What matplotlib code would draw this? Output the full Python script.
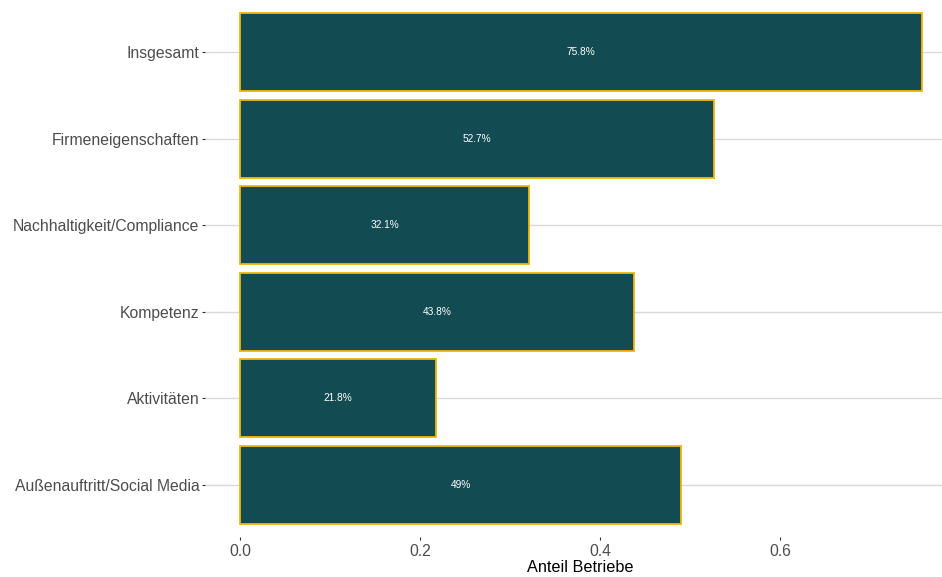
import matplotlib.pyplot as plt

plt.rcParams['font.family'] = ['Liberation Sans', 'DejaVu Sans']

# Daten (von oben nach unten)
kategorien = ['Insgesamt', 'Firmeneigenschaften', 'Nachhaltigkeit/Compliance',
              'Kompetenz', 'Aktivitäten', 'Außenauftritt/Social Media']
anteile = [0.758, 0.527, 0.321, 0.438, 0.218, 0.49]
labels = ['75.8%', '52.7%', '32.1%', '43.8%', '21.8%', '49%']

fig = plt.figure(figsize=(9.42, 5.77), dpi=100)
ax = fig.add_axes([205 / 942, 1 - 537 / 577, 1 - 205 / 942, 537 / 577])

pos = list(range(len(kategorien)))
ax.barh(pos, anteile, height=0.9, color='#134B53', edgecolor='#F2B705',
        linewidth=1.3, zorder=3)
for p, v, t in zip(pos, anteile, labels):
    ax.text(v / 2, p, t, color='white', fontsize=7.3, ha='center', va='center', zorder=4)

ax.set_yticks(pos)
ax.set_yticklabels(kategorien)
ax.set_ylim(len(kategorien) - 0.4, -0.6)
ax.set_xlim(-0.039, 0.78)
ax.set_xticks([0.0, 0.2, 0.4, 0.6])
ax.set_xticklabels(['0.0', '0.2', '0.4', '0.6'])

# Gitter: horizontale Linien grau, vertikale weiß
ax.grid(axis='y', color='#D9D9D9', linewidth=1.0, zorder=1)
ax.grid(axis='x', color='white', linewidth=1.0, zorder=2)
ax.set_axisbelow(True)

for s in ax.spines.values():
    s.set_visible(False)
ax.tick_params(axis='both', length=2, width=0.8, color='#333333',
               labelcolor='#4D4D4D', labelsize=11.3)
ax.tick_params(axis='x', pad=3)
ax.tick_params(axis='y', pad=2)

ax.set_xlabel('Anteil Betriebe', fontsize=11.7, color='black', labelpad=0)
ax.xaxis.set_label_coords(0.509, -0.042)

fig.savefig('out.png', dpi=100)
